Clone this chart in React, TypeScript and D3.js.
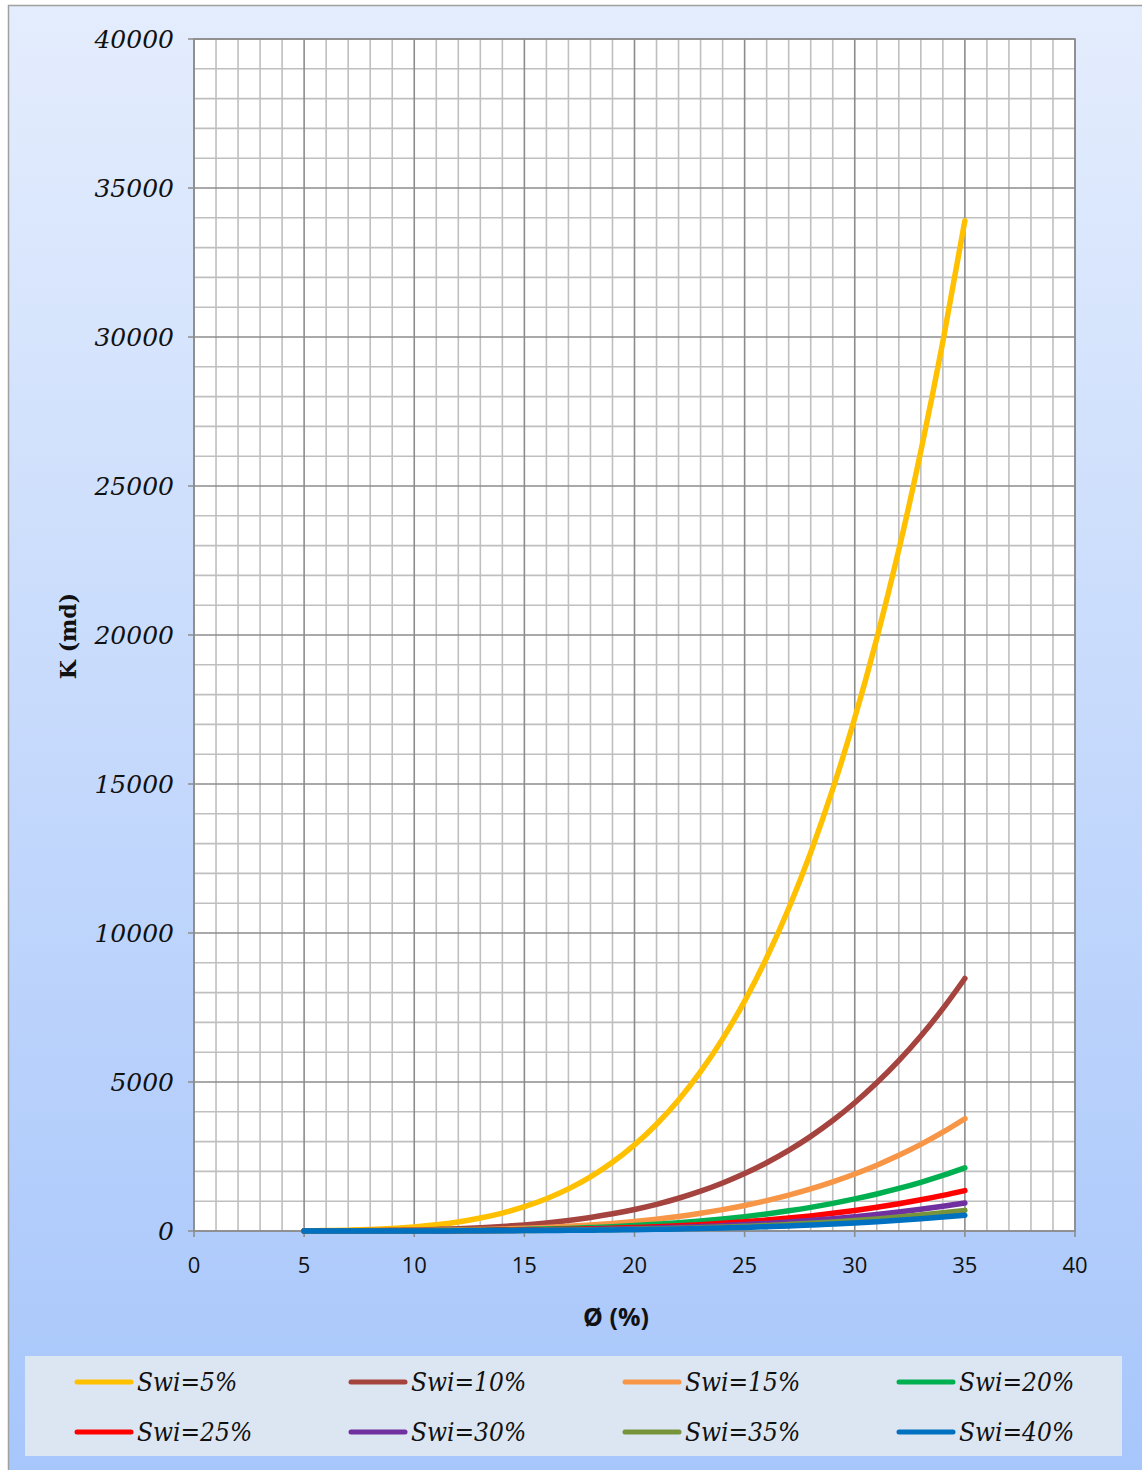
import React from "react";
import * as d3 from "d3";

const porosity = [5,6,7,8,9,10,11,12,13,14,15,16,17,18,19,20,21,22,23,24,25,26,27,28,29,30,31,32,33,34,35];

const swi5 = [6.5,14.4,28.4,51.2,86,137,208,305,434,602,815,1083,1414,1818,2306,2890,3582,4396,5345,6448,7716,9169,10824,12702,14826,17212,19883,22854,26166,29844,33903];
const swi10 = [1.6,3.6,7.1,12.8,21.5,34,52,76,109,150,204,271,354,455,577,723,896,1099,1336,1612,1929,2292,2706,3176,3707,4303,4971,5714,6542,7461,8476];
const swi15 = [0.7,1.6,3.2,5.7,9.6,15.2,23.1,33.9,48.2,66.9,90.6,120,157,202,256,321,398,488,594,716,857,1019,1203,1411,1647,1912,2209,2539,2907,3316,3767];
const swi20 = [0.4,0.9,1.8,3.2,5.4,8.5,13,19,27,38,51,68,88,114,144,181,224,275,334,403,482,573,677,794,927,1076,1243,1428,1635,1865,2119];
const swi25 = [0.26,0.58,1.1,2.0,3.4,5.5,8.3,12.2,17.4,24.1,32.6,43.3,56.6,72.7,92.2,115.6,143.3,175.8,213.8,257.9,308.6,366.8,433,508,593,688,795,914,1047,1194,1356];
const swi30 = [0.18,0.4,0.79,1.42,2.39,3.8,5.8,8.5,12.1,16.7,22.6,30.1,39.3,50.5,64,80.3,99.5,122.1,148.5,179.1,214.3,254.7,300.7,352.8,411.7,478.1,552.3,634.8,726.8,829,941.8];
const swi35 = [0.13,0.29,0.58,1.04,1.76,2.79,4.24,6.22,8.86,12.3,16.6,22.1,28.9,37.1,47.1,59,73.1,89.7,109.1,131.6,157.5,187.1,220.9,259.2,302.5,351.2,405.8,466.4,534,609,692];
const swi40 = [0.1,0.23,0.44,0.8,1.34,2.13,3.25,4.77,6.78,9.41,12.7,16.9,22.1,28.4,36,45.2,56,68.7,83.5,100.8,120.6,143.3,169.1,198.4,231.6,268.9,310.7,357.1,408.8,466.3,529.8];

const seriesNames = ["Swi=5%","Swi=10%","Swi=15%","Swi=20%","Swi=25%","Swi=30%","Swi=35%","Swi=40%"];
const seriesValues = [swi5, swi10, swi15, swi20, swi25, swi30, swi35, swi40];
const seriesColors = ["#FFC000","#A5433F","#F79646","#00B050","#FF0000","#7030A0","#77933C","#0070C0"];

const xTicks = [0,5,10,15,20,25,30,35,40];
const yTicks = [0,5000,10000,15000,20000,25000,30000,35000,40000];

export default function App() {
  const W = 1142, H = 1470;
  const left = 194, right = 1075, top = 39, bottom = 1231;
  const x = d3.scaleLinear().domain([0, 40]).range([left, right]);
  const y = d3.scaleLinear().domain([0, 40000]).range([bottom, top]);

  const minorX = d3.range(0, 41, 1);
  const minorY = d3.range(0, 40001, 1000);

  const line = d3.line<[number, number]>()
    .x(d => x(d[0]))
    .y(d => y(d[1]))
    .curve(d3.curveMonotoneX);

  const legendCols = [77, 351, 625, 899];
  const legendRows = [1382, 1432];

  return (
    <svg width={W} height={H} style={{ position: "absolute", left: 0, top: 0 }}>
      <defs>
        <linearGradient id="bg" x1="0" y1="0" x2="0" y2="1">
          <stop offset="0" stopColor="#E4EDFD" />
          <stop offset="1" stopColor="#A7C6FB" />
        </linearGradient>
      </defs>
      <rect x={8.5} y={5.5} width={W} height={H} fill="url(#bg)" stroke="#A0A0A0" strokeWidth={1.5} />
      <rect x={left} y={top} width={right - left} height={bottom - top} fill="#FFFFFF" />
      {minorX.filter(v => v % 5 !== 0).map(v => (
        <line key={"mx" + v} x1={x(v)} x2={x(v)} y1={top} y2={bottom} stroke="#BFBFBF" strokeWidth={1.6} />
      ))}
      {minorY.filter(v => v % 5000 !== 0).map(v => (
        <line key={"my" + v} x1={left} x2={right} y1={y(v)} y2={y(v)} stroke="#BFBFBF" strokeWidth={1.6} />
      ))}
      {xTicks.map(v => (
        <line key={"Mx" + v} x1={x(v)} x2={x(v)} y1={top} y2={bottom + 6} stroke="#8C8C8C" strokeWidth={1.6} />
      ))}
      {yTicks.map(v => (
        <line key={"My" + v} x1={left - 6} x2={right} y1={y(v)} y2={y(v)} stroke="#8C8C8C" strokeWidth={1.6} />
      ))}
      <rect x={left} y={top} width={right - left} height={bottom - top} fill="none" stroke="#8C8C8C" strokeWidth={1.6} />

      {seriesValues.map((vals, i) => (
        <path
          key={"s" + i}
          d={line(porosity.map((p, j) => [p, vals[j]] as [number, number])) || ""}
          fill="none"
          stroke={seriesColors[i]}
          strokeWidth={5.5}
          strokeLinecap="round"
          strokeLinejoin="round"
        />
      ))}

      {yTicks.map(v => (
        <text key={"yt" + v} x={left - 20} y={y(v)} dy="0.35em" textAnchor="end"
          fontFamily="'DejaVu Serif', serif" fontStyle="italic" fontSize={25} fill="#111">
          {v}
        </text>
      ))}
      {xTicks.map(v => (
        <text key={"xt" + v} x={x(v)} y={bottom + 42} textAnchor="middle"
          fontFamily="'Open Sans', 'Noto Sans', sans-serif" fontSize={22} fill="#111">
          {v}
        </text>
      ))}
      <text x={616} y={1326} textAnchor="middle" fontFamily="'Open Sans', 'Noto Sans', sans-serif"
        fontWeight="bold" fontSize={25} fill="#111">Ø (%)</text>
      <text transform={`translate(76, ${636}) rotate(-90)`} textAnchor="middle"
        fontFamily="'DejaVu Serif', serif" fontWeight="bold" fontSize={22} fill="#111">K (md)</text>

      <rect x={25} y={1356} width={1097} height={100} fill="#DCE6F2" />
      {seriesNames.map((name, i) => {
        const cx = legendCols[i % 4];
        const cy = legendRows[Math.floor(i / 4)];
        return (
          <g key={"lg" + i}>
            <line x1={cx} x2={cx + 54} y1={cy} y2={cy} stroke={seriesColors[i]} strokeWidth={5} strokeLinecap="round" />
            <text x={cx + 60} y={cy} dy="0.35em" fontFamily="'DejaVu Serif Condensed', 'DejaVu Serif', serif" fontStyle="italic"
              fontSize={26} fill="#111" style={{ fontStretch: "condensed" }}>
              {name}
            </text>
          </g>
        );
      })}
    </svg>
  );
}
